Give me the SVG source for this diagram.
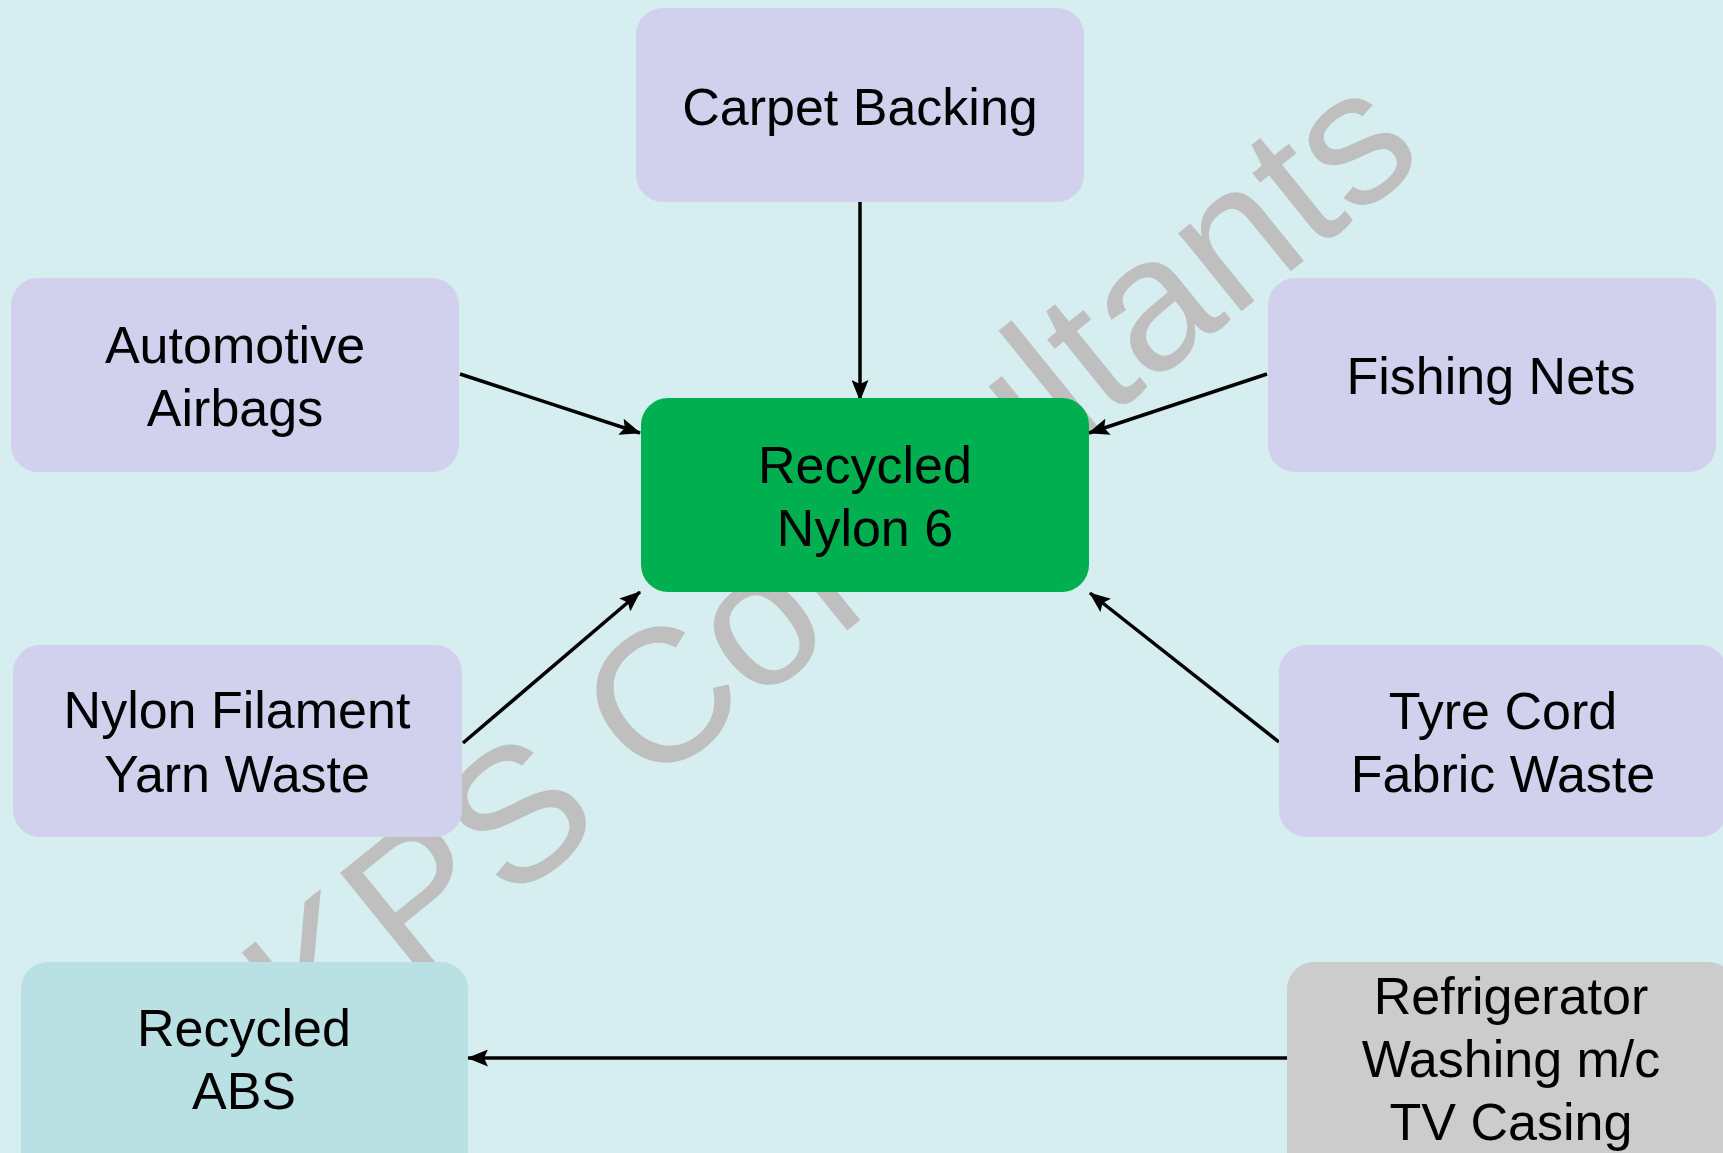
<svg xmlns="http://www.w3.org/2000/svg" width="1723" height="1153" viewBox="0 0 1723 1153">
<defs>
<style>
.box{stroke:none}
.src{fill:#d1d1ee}
.lbl{font-family:"Liberation Sans",Arial,sans-serif;font-size:52px;fill:#000;text-anchor:middle}
.wm{font-family:"Liberation Sans",Arial,sans-serif;font-size:190px;fill:#bfbfbf;text-anchor:middle}
.conn{stroke:#000;stroke-width:3.5;fill:none;marker-end:url(#ah)}
</style>
<marker id="ah" markerUnits="userSpaceOnUse" markerWidth="21" markerHeight="17" refX="20" refY="8.5" orient="auto">
<path d="M0,0 L21,8.5 L0,17 L4,8.5 z" fill="#000"/>
</marker>
</defs>
<rect x="0" y="0" width="1723" height="1153" fill="#d6eeef"/>
<text class="wm" x="870" y="612" transform="rotate(-39 870 612)">KPS Consultants</text>

<g id="connectors">
<line class="conn" x1="860" y1="202" x2="860" y2="400"/>
<line class="conn" x1="460" y1="374" x2="640" y2="433"/>
<line class="conn" x1="1267" y1="374" x2="1089" y2="433"/>
<line class="conn" x1="463" y1="743" x2="640" y2="592"/>
<line class="conn" x1="1279" y1="742" x2="1090" y2="593"/>
<line class="conn" x1="1287" y1="1058" x2="468" y2="1058"/>
</g>

<g id="carpet">
<rect class="box src" x="636" y="8" width="448" height="194" rx="27"/>
<text class="lbl" x="860" y="125">Carpet Backing</text>
</g>
<g id="airbags">
<rect class="box src" x="11" y="278" width="448" height="194" rx="27"/>
<text class="lbl" x="235" y="363">Automotive</text>
<text class="lbl" x="235" y="426">Airbags</text>
</g>
<g id="fishing">
<rect class="box src" x="1268" y="278" width="448" height="194" rx="27"/>
<text class="lbl" x="1491" y="394">Fishing Nets</text>
</g>
<g id="nylon6">
<rect class="box" x="641" y="398" width="448" height="194" rx="27" fill="#00b050"/>
<text class="lbl" x="865" y="483">Recycled</text>
<text class="lbl" x="865" y="546">Nylon 6</text>
</g>
<g id="filament">
<rect class="box src" x="13" y="645" width="449" height="192" rx="27"/>
<text class="lbl" x="237" y="728">Nylon Filament</text>
<text class="lbl" x="237" y="792">Yarn Waste</text>
</g>
<g id="tyre">
<rect class="box src" x="1279" y="645" width="448" height="192" rx="27"/>
<text class="lbl" x="1503" y="729">Tyre Cord</text>
<text class="lbl" x="1503" y="792">Fabric Waste</text>
</g>
<g id="abs">
<rect class="box" x="21" y="962" width="447" height="220" rx="27" fill="#b9e0e3"/>
<text class="lbl" x="244" y="1046">Recycled</text>
<text class="lbl" x="244" y="1109">ABS</text>
</g>
<g id="appliances">
<rect class="box" x="1287" y="962" width="448" height="220" rx="27" fill="#cccccc"/>
<text class="lbl" x="1511" y="1014">Refrigerator</text>
<text class="lbl" x="1511" y="1077">Washing m/c</text>
<text class="lbl" x="1511" y="1140">TV Casing</text>
</g>
</svg>
